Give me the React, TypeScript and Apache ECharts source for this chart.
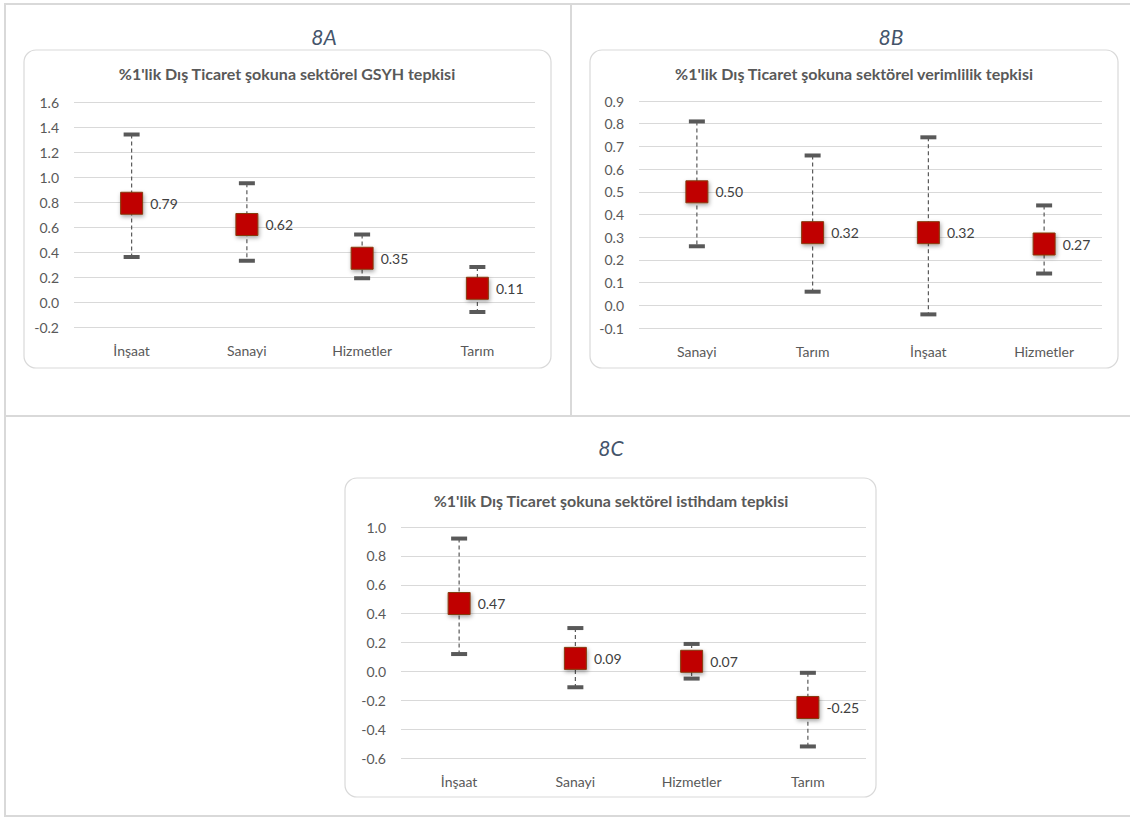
import React, { useEffect, useRef } from "react";
import * as echarts from "echarts";

// Panel A: sectoral GDP response
const catsA = ["İnşaat", "Sanayi", "Hizmetler", "Tarım"];
const valA = [0.79, 0.62, 0.35, 0.11];
const lowA = [0.36, 0.33, 0.19, -0.08];
const highA = [1.34, 0.95, 0.54, 0.28];

// Panel B: sectoral productivity response
const catsB = ["Sanayi", "Tarım", "İnşaat", "Hizmetler"];
const valB = [0.5, 0.32, 0.32, 0.27];
const lowB = [0.26, 0.06, -0.04, 0.14];
const highB = [0.81, 0.66, 0.74, 0.44];

// Panel C: sectoral employment response
const catsC = ["İnşaat", "Sanayi", "Hizmetler", "Tarım"];
const valC = [0.47, 0.09, 0.07, -0.25];
const lowC = [0.12, -0.11, -0.05, -0.52];
const highC = [0.92, 0.3, 0.19, -0.01];

const panelLabels = ["8A", "8B", "8C"];
const chartTitles = [
  "%1'lik Dış Ticaret şokuna sektörel GSYH tepkisi",
  "%1'lik Dış Ticaret şokuna sektörel verimlilik tepkisi",
  "%1'lik Dış Ticaret şokuna sektörel istihdam tepkisi",
];

const FONT = "Lato, 'Noto Sans', sans-serif";
const TEXT = "#595959";
const GRID_LINE = "#d9d9d9";
const FRAME = "#d9d9d9";

function errorBarRender(params: any, api: any) {
  const x = api.value(0);
  const lo = api.coord([x, api.value(1)]);
  const hi = api.coord([x, api.value(2)]);
  const half = 8;
  return {
    type: "group",
    children: [
      {
        type: "line",
        shape: { x1: hi[0], y1: hi[1], x2: lo[0], y2: lo[1] },
        style: { stroke: "#595959", lineWidth: 1.2, lineDash: [4, 3] },
      },
      {
        type: "line",
        shape: { x1: hi[0] - half, y1: hi[1], x2: hi[0] + half, y2: hi[1] },
        style: { stroke: "#595959", lineWidth: 4 },
      },
      {
        type: "line",
        shape: { x1: lo[0] - half, y1: lo[1], x2: lo[0] + half, y2: lo[1] },
        style: { stroke: "#595959", lineWidth: 4 },
      },
    ],
  };
}

export default function App() {
  const ref = useRef<HTMLDivElement>(null);

  useEffect(() => {
    if (!ref.current) return;
    const chart = echarts.init(ref.current, undefined, { renderer: "svg" });

    const grids = [
      { left: 74, top: 102, width: 461, height: 225 },
      { left: 639, top: 101, width: 463, height: 227 },
      { left: 401, top: 527, width: 465, height: 231 },
    ];
    const cats = [catsA, catsB, catsC];
    const vals = [valA, valB, valC];
    const lows = [lowA, lowB, lowC];
    const highs = [highA, highB, highC];
    const yRanges = [
      { min: -0.2, max: 1.6, interval: 0.2, digits: 1 },
      { min: -0.1, max: 0.9, interval: 0.1, digits: 1 },
      { min: -0.6, max: 1.0, interval: 0.2, digits: 1 },
    ];
    const boxes = [
      { x: 24, y: 50, w: 527, h: 318 },
      { x: 590, y: 50, w: 528, h: 318 },
      { x: 345, y: 478, w: 531, h: 319 },
    ];
    const labelPos = [
      { x: 324, y: 36 },
      { x: 891, y: 36 },
      { x: 611, y: 447 },
    ];
    const titlePos = [
      { x: 287, y: 73 },
      { x: 854, y: 73 },
      { x: 611, y: 500 },
    ];

    const graphic: any[] = [];
    // table frame lines
    const frameLines = [
      [4, 4, 1130, 4],
      [5, 4, 5, 817],
      [571, 4, 571, 416],
      [5, 416, 1130, 416],
      [5, 816, 1130, 816],
    ];
    frameLines.forEach(([x1, y1, x2, y2]) =>
      graphic.push({
        type: "line",
        silent: true,
        z: -10,
        shape: { x1, y1, x2, y2 },
        style: { stroke: FRAME, lineWidth: 2 },
      })
    );
    boxes.forEach((b) =>
      graphic.push({
        type: "rect",
        silent: true,
        z: -9,
        shape: { x: b.x, y: b.y, width: b.w, height: b.h, r: 12 },
        style: { fill: "#ffffff", stroke: "#d9d9d9", lineWidth: 1.2 },
      })
    );
    panelLabels.forEach((t, i) =>
      graphic.push({
        type: "text",
        silent: true,
        x: labelPos[i].x,
        y: labelPos[i].y,
        style: {
          text: t,
          fill: "#44546a",
          font: `italic 21px ${FONT}`,
          align: "center",
          verticalAlign: "middle",
        },
      })
    );
    chartTitles.forEach((t, i) =>
      graphic.push({
        type: "text",
        silent: true,
        x: titlePos[i].x,
        y: titlePos[i].y,
        style: {
          text: t,
          fill: TEXT,
          font: `bold 16px ${FONT}`,
          align: "center",
          verticalAlign: "middle",
        },
      })
    );

    const xAxis = cats.map((c, i) => ({
      type: "category",
      gridIndex: i,
      data: c,
      axisLine: { show: false },
      axisTick: { show: false },
      axisLabel: { color: TEXT, fontSize: 14, fontFamily: FONT, margin: 16 },
    }));
    const yAxis = yRanges.map((r, i) => ({
      type: "value",
      gridIndex: i,
      min: r.min,
      max: r.max,
      interval: r.interval,
      axisLine: { show: false },
      axisTick: { show: false },
      splitLine: { lineStyle: { color: GRID_LINE, width: 1 } },
      axisLabel: {
        color: TEXT,
        fontSize: 14,
        fontFamily: FONT,
        margin: 15,
        formatter: (v: number) => v.toFixed(r.digits),
      },
    }));

    const series: any[] = [];
    for (let i = 0; i < 3; i++) {
      series.push({
        type: "custom",
        xAxisIndex: i,
        yAxisIndex: i,
        z: 2,
        renderItem: errorBarRender,
        encode: { x: 0, y: [1, 2] },
        data: cats[i].map((_, k) => [k, lows[i][k], highs[i][k]]),
      });
      series.push({
        type: "scatter",
        xAxisIndex: i,
        yAxisIndex: i,
        z: 3,
        symbol: "rect",
        symbolSize: 22,
        data: vals[i],
        itemStyle: {
          color: "#c00000",
          opacity: 1,
          borderColor: "#843c0c",
          borderWidth: 1,
          shadowBlur: 4,
          shadowOffsetX: 1,
          shadowOffsetY: 2,
          shadowColor: "rgba(0,0,0,0.35)",
        },
        label: {
          show: true,
          position: "right",
          distance: 7,
          color: "#404040",
          fontSize: 14,
          fontFamily: FONT,
          formatter: (p: any) => Number(p.value).toFixed(2),
        },
      });
    }

    chart.setOption({
      animation: false,
      backgroundColor: "#ffffff",
      grid: grids,
      xAxis,
      yAxis,
      series,
      graphic,
    });

    return () => chart.dispose();
  }, []);

  return (
    <div
      ref={ref}
      style={{ position: "fixed", left: 0, top: 0, width: 1130, height: 817 }}
    />
  );
}
